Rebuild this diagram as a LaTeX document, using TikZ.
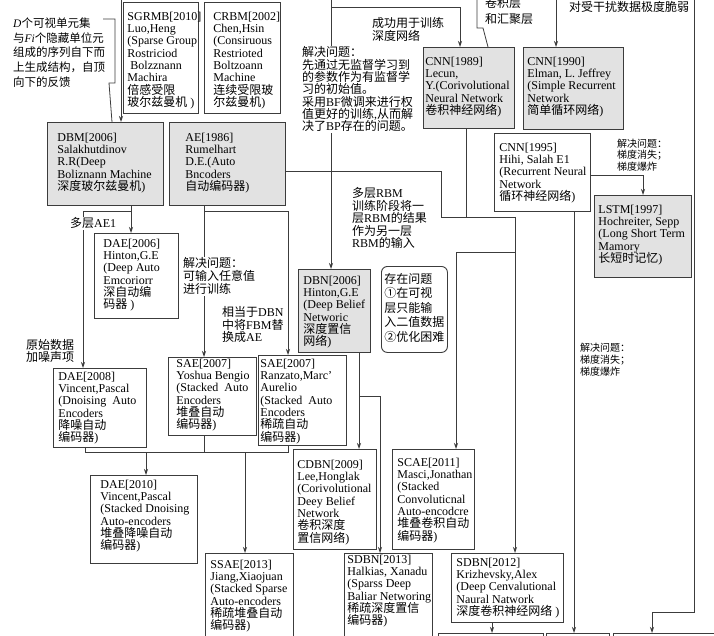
\documentclass[tikz,border=0pt]{standalone}
\usepackage{fontspec}
\setmainfont{Liberation Serif}
\newfontfamily\cjkfont{Noto Sans CJK SC}
\usetikzlibrary{arrows.meta}
\definecolor{linec}{RGB}{60,60,60}
\definecolor{boxgray}{RGB}{226,226,226}
\tikzset{>={Stealth[length=6pt,width=4pt]}}
\lineskiplimit=-20pt
\newcommand{\zh}[1]{{\cjkfont #1}}
\newcommand{\boxfont}{\fontsize{12}{12.3}\selectfont}
% text block of fixed size, lines set flush left from the top
\newcommand{\bt}[3]{\hbox to #1{\vbox to #2{\hsize=300pt\parindent=0pt\parskip=0pt\lineskiplimit=-20pt\raggedright #3\par\vfil}\hss}}
\tikzset{
  box/.style={draw=linec, line width=0.9pt, fill=white, anchor=north west, font=\boxfont},
  graybox/.style={box, fill=boxgray},
  rbox/.style={box, rounded corners=6pt},
  note/.style={anchor=north west, inner sep=0pt, align=left, font=\fontsize{12}{12.5}\selectfont},
  conn/.style={linec, line width=0.8pt},
}
\begin{document}
\begin{tikzpicture}[x=1pt, y=-1pt]
	\useasboundingbox (0,0) rectangle (714,636);
	\clip (0,0) rectangle (714,636);
	\fill[white] (0,0) rectangle (714,636);

	% boxes
	\node[box, inner xsep=4pt, inner ysep=9.5pt] (sgrmb) at (123,2) {\bt{67pt}{92pt}{SGRMB[2010]\\Luo,Heng\\(Sparse Group\\Rostriciod\\~Bolzznann\\Machira\\\zh{倍感受限}\\\zh{玻尔兹曼机}~)}};
	\node[box, inner xsep=9pt, inner ysep=9.5pt] (crbm) at (204,2) {\bt{58pt}{92pt}{CRBM[2002]\\Chen,Hsin\\(Consiruous\\Restrioted\\Boltzoann\\Machine\\\zh{连续受限玻}\\\zh{尔兹曼机})}};
	\node[graybox, inner xsep=10pt, inner ysep=10.6pt] (dbm) at (47,122) {\bt{96pt}{61.8pt}{DBM[2006]\\Salakhutdinov\\R.R(Deep\\Boliznann Machine\\\zh{深度玻尔兹曼机})}};
	\node[graybox, inner xsep=16pt, inner ysep=10.6pt] (ae) at (169,122) {\bt{84pt}{61.8pt}{AE[1986]\\Rumelhart\\D.E.(Auto\\Bncoders\\\zh{自动编码器})}};
	\node[graybox, inner xsep=2pt, inner ysep=9.6pt] (cnn89) at (423,47) {\bt{87pt}{61.8pt}{CNN[1989]\\Lecun,\\Y.(Corivolutional\\Neural Network\\\zh{卷积神经网络})}};
	\node[graybox, inner xsep=4pt, inner ysep=9.6pt] (cnn90) at (523,47) {\bt{92pt}{62.8pt}{CNN[1990]\\Elman, L. Jeffrey\\(Simple Recurrent\\Network\\\zh{简单循环网络})}};
	\node[box, inner xsep=5pt, inner ysep=9.6pt] (cnn95) at (494,133) {\bt{86pt}{58.8pt}{CNN[1995]\\Hihi, Salah E1\\(Recurrent Neural\\Network\\\zh{循环神经网络})}};
	\node[graybox, inner xsep=4pt, inner ysep=9.6pt] (lstm) at (594,195) {\bt{89pt}{62.8pt}{LSTM[1997]\\Hochreiter, Sepp\\(Long Short Term\\Mamory\\\zh{长短时记忆})}};
	\node[box, inner xsep=9pt, inner ysep=5.6pt] (dae06) at (94,233) {\bt{66pt}{73.8pt}{DAE[2006]\\Hinton,G.E\\(Deep Auto\\Emcoriorr\\\zh{深自动编}\\\zh{码器} )}};
	\node[graybox, inner xsep=5pt, inner ysep=6.6pt] (dbn) at (298,269) {\bt{62pt}{69.8pt}{DBN[2006]\\Hinton,G.E\\(Deep Belief\\Networic\\\zh{深度置信}\\\zh{网络})}};
	\node[rbox, inner xsep=3pt, inner ysep=6.6pt] (issue) at (381,266) {\bt{60pt}{72.8pt}{\fontsize{12}{14.5}\selectfont\zh{存在问题}\\\zh{①在可视}\\\zh{层只能输}\\\zh{入二值数据}\\\zh{②优化困难}}};
	\node[box, inner xsep=5pt, inner ysep=3.6pt] (dae08) at (53,368) {\bt{83pt}{71.8pt}{DAE[2008]\\Vincent,Pascal\\(Dnoising~~Auto\\Encoders\\\zh{降噪自动}\\\zh{编码器})}};
	\node[box, inner xsep=8pt, inner ysep=1.6pt] (saey) at (168,357) {\bt{72pt}{74.8pt}{SAE[2007]\\Yoshua Bengio\\(Stacked~~Auto\\Encoders\\\zh{堆叠自动}\\\zh{编码器})}};
	\node[box, inner xsep=2pt, inner ysep=3.6pt] (saer) at (258,355) {\bt{84pt}{82.8pt}{SAE[2007]\\Ranzato,Marc'\\Aurelio\\(Stacked~~Auto\\Encoders\\\zh{稀疏自动}\\\zh{编码器})}};
	\node[box, inner xsep=10pt, inner ysep=4.6pt] (dae10) at (90,475) {\bt{87pt}{78.8pt}{DAE[2010]\\Vincent,Pascal\\(Stacked Dnoising\\Auto-encoders\\\zh{堆叠降噪自动}\\\zh{编码器})}};
	\node[box, inner xsep=4pt, inner ysep=10.6pt] (cdbn) at (293,449) {\bt{75pt}{78.8pt}{CDBN[2009]\\Lee,Honglak\\(Corivolutional\\Deey Belief\\Network\\\zh{卷积深度}\\\zh{置信网络})}};
	\node[box, inner xsep=5pt, inner ysep=8.6pt] (scae) at (392,449) {\bt{72pt}{82.8pt}{SCAE[2011]\\Masci,Jonathan\\(Stacked\\Convoluticnal\\Auto-encodcre\\\zh{堆叠卷积自动}\\\zh{编码器})}};
	\node[box, inner xsep=5pt, inner ysep=6.6pt] (ssae) at (205,553) {\bt{78pt}{86.8pt}{SSAE[2013]\\Jiang,Xiaojuan\\(Stacked Sparse\\Auto-encoders\\\zh{稀疏堆叠自动}\\\zh{编码器})}};
	\node[box, inner xsep=3pt, inner ysep=1.6pt] (sdbn13) at (344,553) {\bt{82pt}{96.8pt}{SDBN[2013]\\Halkias, Xanadu\\(Sparss Deep\\Baliar Networing\\\zh{稀疏深度置信}\\\zh{编码器})}};
	\node[box, inner xsep=5pt, inner ysep=4.6pt] (sdbn12) at (451,553) {\bt{102pt}{59.8pt}{SDBN[2012]\\Krizhevsky,Alex\\(Deep Cenvalutional\\Naural Natwork\\\zh{深度卷积神经网络} )}};
	\node[box, inner sep=0pt, minimum width=105pt, minimum height=30pt] (outa) at (438,633) {};
	\node[box, inner sep=0pt, minimum width=63pt, minimum height=30pt] (outb) at (546,633) {};
	\node[box, inner sep=0pt, minimum width=110pt, minimum height=30pt] (outc) at (613,633) {};

	% junctions
	\coordinate (inA) at (121,-5);
	\coordinate (inB) at (331,-5);
	\coordinate (inC) at (556,-5);
	\coordinate (inD) at (694,-5);
	\coordinate (inE) at (477,-5);
	\coordinate (jB) at (331,7);
	\coordinate (jD) at (652,612);
	\coordinate (a1) at (131,211);
	\coordinate (a2) at (83,211);
	\coordinate (a3) at (204,211);
	\coordinate (a4) at (288,211);
	\coordinate (b1) at (85,452);
	\coordinate (b2) at (288,452);
	\coordinate (b3) at (204,452);
	\coordinate (b4) at (146,452);
	\coordinate (b5) at (245,452);
	\coordinate (m0) at (441,171);
	\coordinate (m1) at (441,217);
	\coordinate (m2) at (515,217);
	\coordinate (m3) at (456,252);
	\coordinate (c89) at (466,128);
	\coordinate (d1) at (359,396);
	\coordinate (d2) at (380,396);
	\coordinate (e1) at (643,175);
	\coordinate (e2) at (574,211);
	\coordinate (e3) at (492,622);

	% connectors
	\draw[conn,->] (inA) -- (inA |- dbm.north);
	\draw[conn,->] (inB) -- (inB |- dbn.north);
	\draw[conn,->] (jB) -| ([xshift=37pt]cnn89.north west);
	\draw[conn,->] (inC) -- (inC |- cnn90.north);
	\draw[conn,->] (inD) |- (jD) -- (jD |- outc.north);
	\draw[conn] (inE) |- (483,28) -- ([xshift=65pt]cnn89.north west);
	\draw[conn] (103,19) -- (115,19) -- (115,83) -- (109,83) -- ([xshift=65pt]dbm.north west);
	\draw[conn] (ae.east |- m0) -- (m0) -- (m1) -- (m2);
	\draw[conn,->] (m2) -- (m2 |- sdbn12.north);
	\draw[conn] (cnn89.south -| c89) -- (c89 |- m1);
	\draw[conn,->] (m2 |- m3) -- (m3) -- (m3 |- scae.north);
	\draw[conn,->] (dbn.south -| d1) -- (d1 |- cdbn.north);
	\draw[conn,->] (d1) -| (d2 |- sdbn13.north);
	\draw[conn,->] (dbm.south -| a1) -- (a1 |- dae06.north);
	\draw[conn,->] (a1) -| (a2 |- dae08.north);
	\draw[conn,->] (ae.south -| a3) -- (a3 |- saey.north);
	\draw[conn,->] (a3) -| (a4 |- saer.north);
	\draw[conn] (dae08.south -| b1) -- (b1) -- (b2) -- (b2 |- saer.south);
	\draw[conn] (saey.south -| b3) -- (b3);
	\draw[conn,->] (b4) -- (b4 |- dae10.north);
	\draw[conn,->] (b5) -- (b5 |- ssae.north);
	\draw[conn,->] (cnn95.east |- e1) -| (lstm.north -| e1);
	\draw[conn,->] (cnn95.south -| e2) -- (e2 |- outb.north);
	\draw[conn,->] (sdbn12.south -| e3) -- (e3 |- outa.north);

	% notes
	\node[note, font=\fontsize{11.5}{14.7}\selectfont] (dnote) at (13,17.6) {\textit{D}\zh{个可视单元集}\\\zh{与}\textit{Fi}\zh{个隐藏单位元}\\\zh{组成的序列自下而}\\\zh{上生成结构，自顶}\\\zh{向下的反馈}};
	\node[note, font=\fontsize{12}{13}\selectfont] (success) at (372,17.6) {\zh{成功用于训练}\\\zh{深度网络}};
	\node[note, fill=white, inner sep=1pt, font=\fontsize{12}{12.3}\selectfont] (solve1) at (301,45.6) {\zh{解决问题：}\\\zh{先通过无监督学习到}\\\zh{的参数作为有监督学}\\\zh{习的初始值。}\\\zh{采用}BF\zh{微调来进行权}\\\zh{值更好的训练},\zh{从而解}\\\zh{决了}BP\zh{存在的问题。}};
	\node[note] (fragile) at (569,1.6) {\zh{对受干扰数据极度脆弱}};
	\node[note, font=\fontsize{12}{16}\selectfont] (convpool) at (485,-2.4) {\zh{卷积层}\\\zh{和汇聚层}};
	\node[note, font=\fontsize{10}{11.7}\selectfont] (grad1) at (617,138.5) {\zh{解决问题：}\\\zh{梯度消失；}\\\zh{梯度爆炸}};
	\node[note, font=\fontsize{10}{12}\selectfont] (grad2) at (580,342.5) {\zh{解决问题：}\\\zh{梯度消失；}\\\zh{梯度爆炸}};
	\node[note] (multirbm) at (352,187.6) {\zh{多层}RBM\\\zh{训练阶段将一}\\\zh{层}RBM\zh{的结果}\\\zh{作为另一层}\\RBM\zh{的输入}};
	\node[note, fill=white, inner sep=1pt] (multiae) at (69,216.6) {\zh{多层}AE1};
	\node[note, fill=white, inner sep=1pt, font=\fontsize{12}{13}\selectfont] (solve2) at (182,256.6) {\zh{解决问题：}\\\zh{可输入任意值}\\\zh{进行训练}};
	\node[note] (equiv) at (222,306.6) {\zh{相当于}DBN\\\zh{中将}FBM\zh{替}\\\zh{换成}AE};
	\node[note, font=\fontsize{12}{11.5}\selectfont] (noise) at (26,339.6) {\zh{原始数据}\\\zh{加噪声项}};
\end{tikzpicture}
\end{document}
